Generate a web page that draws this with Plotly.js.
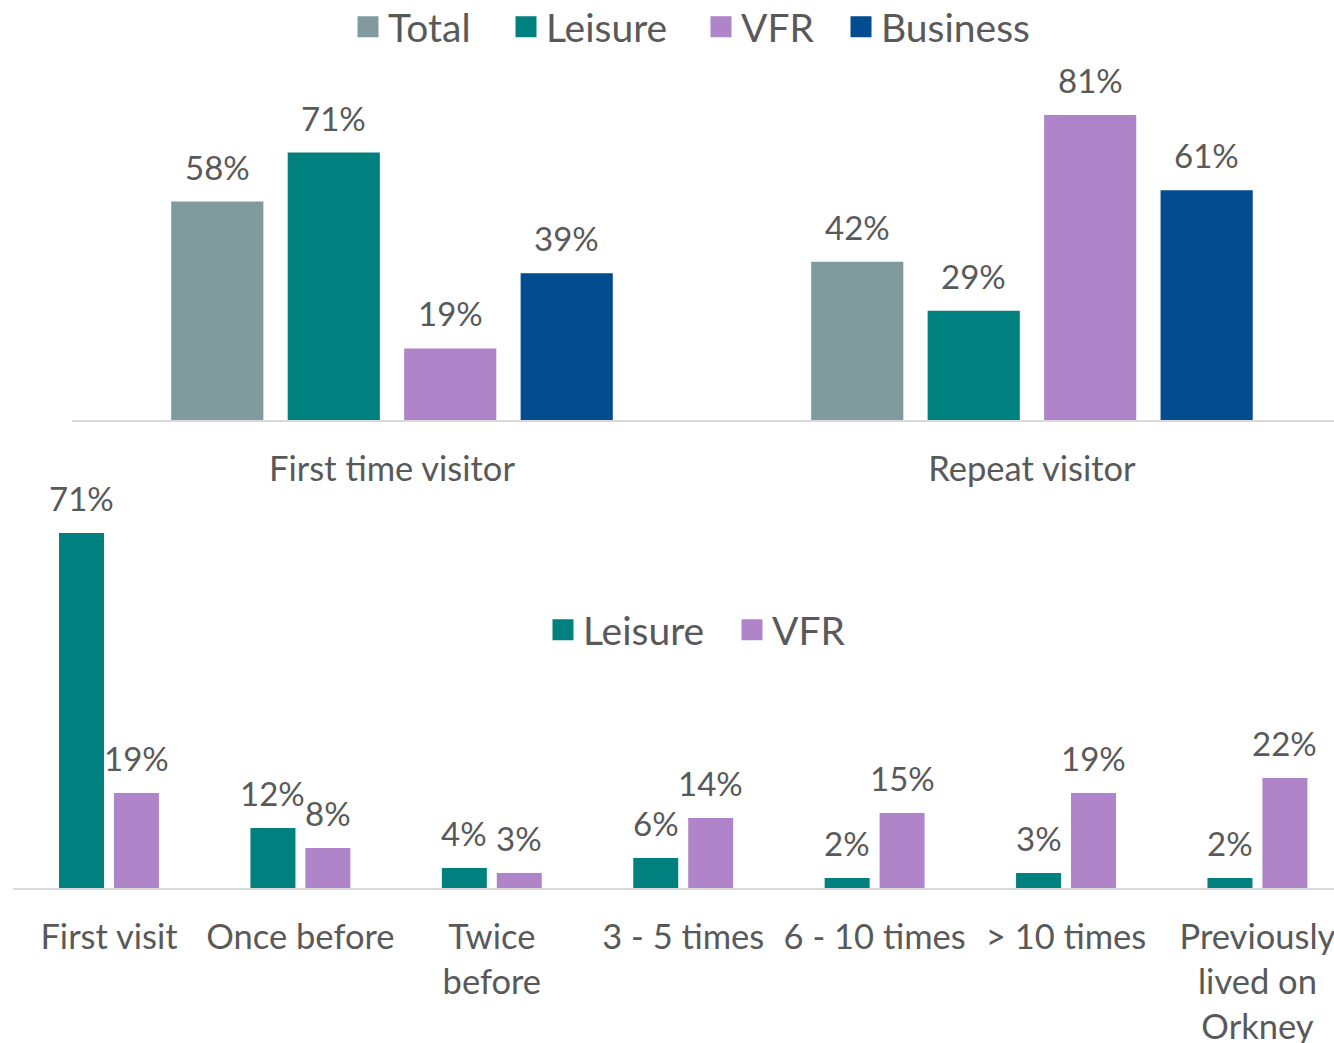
<!DOCTYPE html>
<html>
<head>
<meta charset="utf-8">
<script src="https://cdn.plot.ly/plotly-3.0.1.min.js"></script>
<style>
  html, body { margin: 0; padding: 0; background: #ffffff; }
  #chart { width: 1334px; height: 1043px; }
</style>
</head>
<body>
<div id="chart"></div>
<script>
// Top chart: first time vs repeat visitors by visitor type
const visitorGroups = ['First time visitor', 'Repeat visitor'];
const totalShare = [58, 42];
const leisureShare = [71, 29];
const vfrShare = [19, 81];
const businessShare = [39, 61];

// Bottom chart: number of previous visits
const visitCounts = ['First visit', 'Once before', 'Twice<br>before', '3 - 5 times',
    '6 - 10 times', '> 10 times', 'Previously<br>lived on<br>Orkney'];
const leisureVisits = [71, 12, 4, 6, 2, 3, 2];
const vfrVisits = [19, 8, 3, 14, 15, 19, 22];

const COLORS = {
    total: '#819a9e',
    leisure: '#00807f',
    vfr: '#af84c9',
    business: '#024c8f'
};
const TEXT_COLOR = '#595959';
const FONT = 'Lato, "Open Sans", sans-serif';
const LABEL_SIZE = 33;
const W = 1334, H = 1043;

const TOP_PITCH = 0.182, TOP_WIDTH = 0.144;
const BOTTOM_WIDTH = 0.235;

const annotations = [];

// value labels as annotations so they can sit a little higher above the bars
function addLabels(values, xref, yref, center) {
    values.forEach((v, i) => {
        annotations.push({
            x: i + center,
            y: v,
            xref: xref,
            yref: yref,
            text: v + '%',
            showarrow: false,
            yanchor: 'bottom',
            yshift: 13,
            font: {family: FONT, size: LABEL_SIZE, color: TEXT_COLOR}
        });
    });
}

// bars sit in fixed slots (layout.bargap is shared by both subplots, so set them per trace)
function topBar(values, color, slot) {
    const offset = -2 * TOP_PITCH + (TOP_PITCH - TOP_WIDTH) / 2 + slot * TOP_PITCH;
    addLabels(values, 'x', 'y', offset + TOP_WIDTH / 2);
    return {
        type: 'bar',
        x: visitorGroups,
        y: values,
        xaxis: 'x',
        yaxis: 'y',
        width: TOP_WIDTH,
        offset: offset,
        marker: {color: color},
        showlegend: false,
        hoverinfo: 'skip'
    };
}

function bottomBar(values, color, offset) {
    addLabels(values, 'x2', 'y2', offset + BOTTOM_WIDTH / 2);
    return {
        type: 'bar',
        x: visitCounts,
        y: values,
        xaxis: 'x2',
        yaxis: 'y2',
        width: BOTTOM_WIDTH,
        offset: offset,
        marker: {color: color},
        showlegend: false,
        hoverinfo: 'skip'
    };
}

// one legend per entry, so each swatch can be placed like the original
const legends = {};
function legendEntry(name, color, legendId, xa, ya, textLeft, midY) {
    legends[legendId] = {
        x: (textLeft - 40) / W,
        xanchor: 'left',
        y: 1 - midY / H,
        yanchor: 'middle',
        itemsizing: 'trace',
        font: {family: FONT, size: 39, color: TEXT_COLOR},
        bgcolor: 'rgba(0,0,0,0)'
    };
    return {
        type: 'scatter',
        mode: 'markers',
        name: name,
        x: [null],
        y: [null],
        xaxis: xa,
        yaxis: ya,
        marker: {symbol: 'square', size: 16, color: color, line: {width: 5, color: color}},
        legend: legendId,
        hoverinfo: 'skip'
    };
}

const data = [
    topBar(totalShare, COLORS.total, 0),
    topBar(leisureShare, COLORS.leisure, 1),
    topBar(vfrShare, COLORS.vfr, 2),
    topBar(businessShare, COLORS.business, 3),
    bottomBar(leisureVisits, COLORS.leisure, -0.261),
    bottomBar(vfrVisits, COLORS.vfr, 0.026),
    legendEntry('Total', COLORS.total, 'legend', 'x', 'y', 388, 27),
    legendEntry('Leisure', COLORS.leisure, 'legend2', 'x', 'y', 546, 27),
    legendEntry('VFR', COLORS.vfr, 'legend3', 'x', 'y', 741, 27),
    legendEntry('Business', COLORS.business, 'legend4', 'x', 'y', 881, 27),
    legendEntry('Leisure', COLORS.leisure, 'legend5', 'x2', 'y2', 583, 630),
    legendEntry('VFR', COLORS.vfr, 'legend6', 'x2', 'y2', 772, 630)
];

const axisCommon = {
    type: 'category',
    showgrid: false,
    zeroline: false,
    showline: true,
    linecolor: '#d9d9d9',
    linewidth: 2,
    ticks: '',
    tickfont: {family: FONT, size: 34.5, color: TEXT_COLOR},
    fixedrange: true
};

const layout = Object.assign({
    width: W,
    height: H,
    margin: {l: 0, r: 0, t: 0, b: 0, autoexpand: false},
    paper_bgcolor: '#ffffff',
    plot_bgcolor: '#ffffff',
    font: {family: FONT, color: TEXT_COLOR},
    barmode: 'overlay',
    xaxis: Object.assign({}, axisCommon, {
        domain: [0.054, 1],
        range: [-0.5, 1.472],
        anchor: 'y',
        ticklabelstandoff: 18
    }),
    yaxis: {
        domain: [0.5973, 0.9425],
        range: [0, 95.6],
        visible: false,
        fixedrange: true
    },
    xaxis2: Object.assign({}, axisCommon, {
        domain: [0.00997, 1],
        range: [-0.5, 6.4],
        anchor: 'y2',
        ticklabelstandoff: 18
    }),
    yaxis2: {
        domain: [0.1486, 0.511],
        range: [0, 75.6],
        visible: false,
        fixedrange: true
    },
    annotations: annotations,
    showlegend: true
}, legends);

Plotly.newPlot('chart', data, layout, {displayModeBar: false, staticPlot: true});
</script>
</body>
</html>
